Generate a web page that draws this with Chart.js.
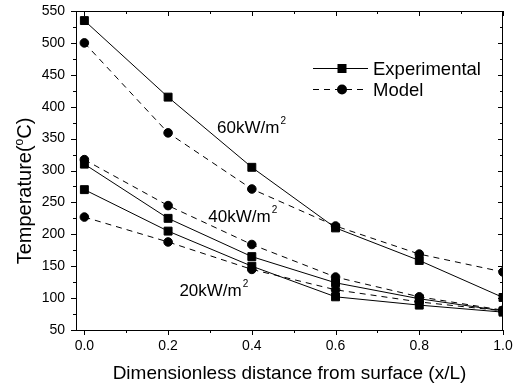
<!DOCTYPE html>
<html>
<head>
<meta charset="utf-8">
<script src="https://cdn.jsdelivr.net/npm/chart.js@4"></script>
<style>
  html, body { margin: 0; padding: 0; background: #fff; }
</style>
</head>
<body>
<canvas id="chart" width="513" height="387"></canvas>
<script>
const xValues = [0, 0.2, 0.4, 0.6, 0.8, 1.0];
const xTickLabels = ['0.0', '0.2', '0.4', '0.6', '0.8', '1.0'];
const yTickLabels = [50, 100, 150, 200, 250, 300, 350, 400, 450, 500, 550];

const exp60 = [535, 415, 305, 210, 159, 101];
const model60 = [500, 359, 271, 213, 169, 141];
const exp40 = [310, 225, 165, 124, 99, 80];
const model40 = [317, 245, 184, 133, 102, 81];
const exp20 = [270, 205, 150, 102, 89, 78];
const model20 = [227, 188, 145, 113, 94, 80];

const fontFamily = "'Liberation Sans', Arial, sans-serif";

// heat flux labels placed next to each pair of curves
const fluxLabels = [
  { text: '60kW/m', x: 0.317, y: 358 },
  { text: '40kW/m', x: 0.296, y: 220 },
  { text: '20kW/m', x: 0.227, y: 103 }
];

function series(values, kind) {
  const solid = kind === 'exp';
  return {
    data: values.map((v, i) => ({ x: xValues[i], y: v })),
    borderColor: '#000',
    backgroundColor: '#000',
    borderWidth: 1,
    borderDash: solid ? [] : [6, 5],
    pointStyle: solid ? 'rect' : 'circle',
    pointRadius: solid ? 5.6 : 4.3,
    pointBorderWidth: 1,
    pointBackgroundColor: '#000',
    pointBorderColor: '#000',
    tension: 0
  };
}

const decorations = {
  id: 'decorations',
  afterDraw(chart) {
    const { ctx, chartArea: a, scales: { x, y } } = chart;
    ctx.save();
    ctx.strokeStyle = '#000';
    ctx.fillStyle = '#000';
    ctx.lineWidth = 1;

    // frame
    ctx.strokeRect(a.left + 0.5, a.top + 0.5, a.right - a.left - 1, a.bottom - a.top);

    // ticks: outward on bottom/left, inward on top/right
    ctx.beginPath();
    for (let v = 50; v <= 550; v += 25) {
      const py = Math.round(y.getPixelForValue(v)) + 0.5;
      const len = v % 50 === 0 ? 5 : 3;
      ctx.moveTo(a.left, py); ctx.lineTo(a.left - len, py);
      ctx.moveTo(a.right, py); ctx.lineTo(a.right - len, py);
    }
    for (let k = 0; k <= 10; k++) {
      const px = Math.round(x.getPixelForValue(k / 10)) + 0.5;
      const len = k % 2 === 0 ? 5 : 3;
      ctx.moveTo(px, a.bottom); ctx.lineTo(px, a.bottom + len);
      ctx.moveTo(px, a.top); ctx.lineTo(px, a.top + len);
    }
    ctx.stroke();

    // y axis title with superscript o
    ctx.save();
    ctx.translate(31, 191);
    ctx.rotate(-Math.PI / 2);
    ctx.textBaseline = 'alphabetic';
    ctx.textAlign = 'left';
    ctx.font = '20px ' + fontFamily;
    const t1 = 'Temperature(';
    const t2 = 'C)';
    const w1 = ctx.measureText(t1).width;
    const w2 = ctx.measureText(t2).width;
    ctx.font = '12px ' + fontFamily;
    const wo = ctx.measureText('o').width;
    let sx = -(w1 + wo + w2) / 2;
    ctx.font = '20px ' + fontFamily;
    ctx.fillText(t1, sx, 0);
    ctx.font = '12px ' + fontFamily;
    ctx.fillText('o', sx + w1, -8);
    ctx.font = '20px ' + fontFamily;
    ctx.fillText(t2, sx + w1 + wo, 0);
    ctx.restore();

    // flux labels
    ctx.textAlign = 'left';
    ctx.textBaseline = 'alphabetic';
    fluxLabels.forEach(l => {
      const px = x.getPixelForValue(l.x);
      const py = y.getPixelForValue(l.y);
      ctx.font = '17px ' + fontFamily;
      ctx.fillText(l.text, px, py);
      const w = ctx.measureText(l.text).width;
      ctx.font = '10px ' + fontFamily;
      ctx.fillText('2', px + w + 1, py - 9);
    });

    // legend
    const lx0 = 313, lx1 = 368, mx = 342, tx = 373;
    ctx.font = '18.5px ' + fontFamily;
    ctx.beginPath();
    ctx.moveTo(lx0, 68.5); ctx.lineTo(lx1, 68.5);
    ctx.stroke();
    ctx.fillRect(mx - 4.5, 68.5 - 4.5, 9, 9);
    ctx.fillText('Experimental', tx, 74.5);

    ctx.setLineDash([6, 5]);
    ctx.beginPath();
    ctx.moveTo(lx0, 89.5); ctx.lineTo(lx1, 89.5);
    ctx.stroke();
    ctx.setLineDash([]);
    ctx.beginPath();
    ctx.arc(mx, 89.5, 5, 0, Math.PI * 2);
    ctx.fill();
    ctx.fillText('Model', tx, 95.5);

    ctx.restore();
  }
};

const ctx = document.getElementById('chart').getContext('2d');
new Chart(ctx, {
  type: 'line',
  data: {
    datasets: [
      series(exp60, 'exp'), series(model60, 'model'),
      series(exp40, 'exp'), series(model40, 'model'),
      series(exp20, 'exp'), series(model20, 'model')
    ]
  },
  options: {
    responsive: false,
    devicePixelRatio: 1,
    animation: false,
    layout: { padding: { top: 11, right: 10, left: 0, bottom: 0 } },
    plugins: {
      legend: { display: false },
      tooltip: { enabled: false }
    },
    scales: {
      x: {
        type: 'linear',
        min: -0.02,
        max: 1.0,
        afterBuildTicks: s => { s.ticks = xValues.map(v => ({ value: v })); },
        afterFit: s => { s.height = 57; s.paddingLeft = 0; s.paddingRight = 0; },
        ticks: {
          color: '#000',
          font: { family: fontFamily, size: 14 },
          padding: 8,
          maxRotation: 0,
          callback: (v, i) => xTickLabels[i]
        },
        grid: { display: false, drawTicks: false, tickLength: 0 },
        border: { display: false },
        title: {
          display: true,
          text: 'Dimensionless distance from surface (x/L)',
          color: '#000',
          font: { family: fontFamily, size: 19 },
          padding: { top: 0, bottom: 2 }
        }
      },
      y: {
        min: 50,
        max: 550,
        afterBuildTicks: s => { s.ticks = yTickLabels.map(v => ({ value: v })); },
        afterFit: s => { s.width = 76; s.paddingTop = 0; s.paddingBottom = 0; },
        ticks: {
          color: '#000',
          font: { family: fontFamily, size: 14 },
          padding: 11
        },
        grid: { display: false, drawTicks: false, tickLength: 0 },
        border: { display: false }
      }
    }
  },
  plugins: [decorations]
});
</script>
</body>
</html>
